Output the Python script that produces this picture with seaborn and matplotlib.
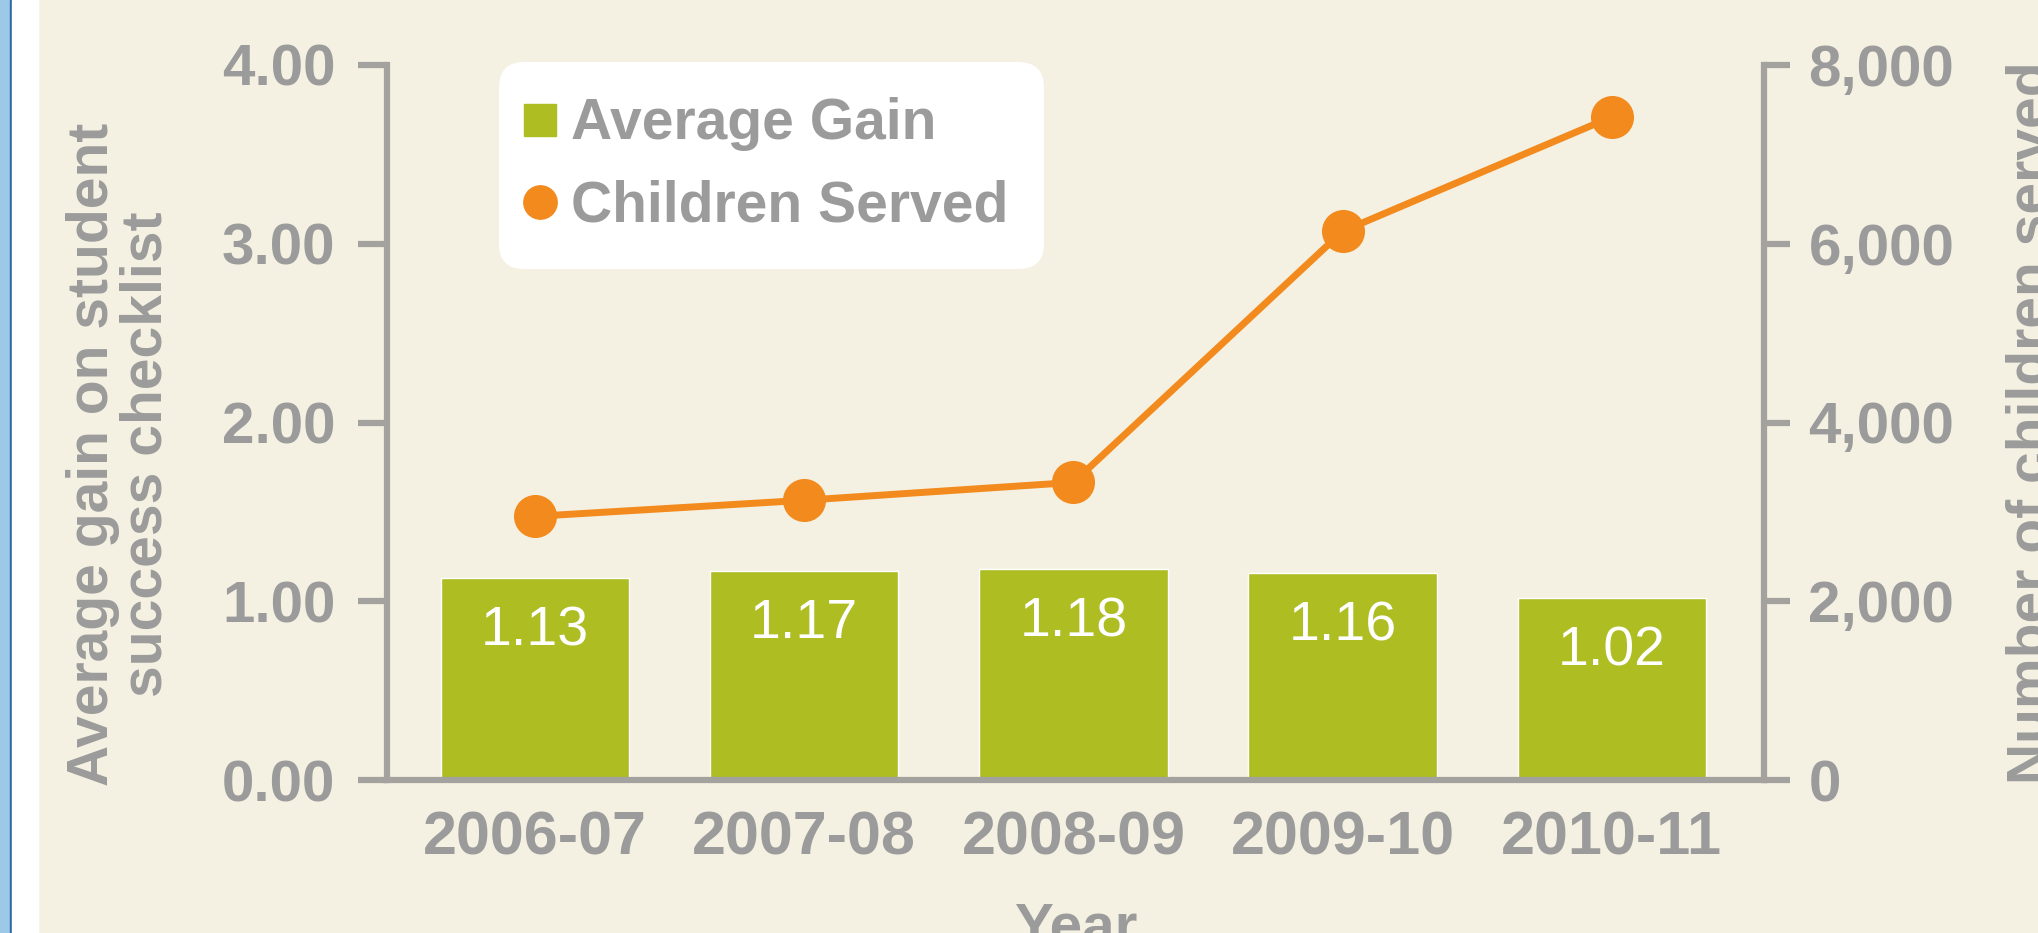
import numpy as np
import pandas as pd
import matplotlib
matplotlib.use('Agg')
import matplotlib.pyplot as plt
from matplotlib.lines import Line2D
from matplotlib.patches import Rectangle
import seaborn as sns

years = ['2006-07', '2007-08', '2008-09', '2009-10', '2010-11']
avg_gain = [1.13, 1.17, 1.18, 1.16, 1.02]
children = [2950, 3130, 3330, 6140, 7420]
left_ticks = [0, 1, 2, 3, 4]
right_ticks = [0, 2000, 4000, 6000, 8000]

green = '#adbd22'
orange = '#f28a1d'
cream = '#f5f1e2'
grey_txt = '#9b9b9b'
grey_line = '#a4a29f'

sns.set_theme(style='white')
plt.rcParams['font.family'] = ['Liberation Sans', 'DejaVu Sans']

df = pd.DataFrame({'year': years, 'gain': avg_gain, 'children': children})
df['pos'] = np.arange(len(df))

fig = plt.figure(figsize=(20.38, 9.33), dpi=100)
fig.patch.set_facecolor(cream)
# left page border (blue strip + white margin)
W = 2038
fig.patches.append(Rectangle((0, 0), 9.5 / W, 1, transform=fig.transFigure, color='#9dc9e9', zorder=0))
fig.patches.append(Rectangle((9.5 / W, 0), 2.5 / W, 1, transform=fig.transFigure, color='#2c6aa0', zorder=0))
fig.patches.append(Rectangle((12 / W, 0), 26 / W, 1, transform=fig.transFigure, color='white', zorder=0))

ax = fig.add_axes([387 / W, 1 - 780 / 933, (1764 - 387) / W, 715 / 933])
ax.set_facecolor(cream)
sns.barplot(data=df, x='pos', y='gain', color=green, width=0.7, saturation=1, ax=ax,
            native_scale=True, zorder=2)

ax2 = ax.twinx()
sns.lineplot(data=df, x='pos', y='children', color=orange, linewidth=5, marker='o',
             markersize=31, markeredgewidth=0, ax=ax2)

ax.set_xlim(-0.55, 4.565)
ax.set_ylim(0, 4)
ax2.set_ylim(0, 8000)

# bar values in white inside the bars
for i, v in enumerate(avg_gain):
    ax.text(i, v - 0.30, f'{v:.2f}', color='white', ha='center', va='center',
            fontsize=40, zorder=3)

ax.set_xticks(df['pos'])
ax.set_xticklabels(years)
ax.set_yticks(left_ticks)
ax.set_yticklabels([f'{t:.2f}' for t in left_ticks])
ax2.set_yticks(right_ticks)
ax2.set_yticklabels([f'{t:,}' for t in right_ticks])

for a in (ax, ax2):
    for s in a.spines.values():
        s.set_visible(False)
        s.set_color(grey_line)
        s.set_linewidth(4.5)
ax.spines['left'].set_visible(True)
ax.spines['bottom'].set_visible(True)
ax2.spines['right'].set_visible(True)

ax.tick_params(axis='y', left=True, length=21, width=4.5, color=grey_line, pad=16,
               labelsize=42, labelcolor=grey_txt)
ax.tick_params(axis='x', bottom=False, length=0, pad=22, labelsize=44, labelcolor=grey_txt)
ax2.tick_params(axis='y', right=True, length=19, width=4.5, color=grey_line, pad=13,
                labelsize=42, labelcolor=grey_txt)
for lab in ax.get_xticklabels() + ax.get_yticklabels() + ax2.get_yticklabels():
    lab.set_fontweight('bold')

ax.set_xlabel('Year', fontsize=42, fontweight='bold', color=grey_txt, va='top')
ax.xaxis.set_label_coords(0.5, -0.17)
ax.set_ylabel('Average gain on student\nsuccess checklist', fontsize=41, fontweight='bold',
              color=grey_txt, va='center', linespacing=1.0)
ax.yaxis.set_label_coords(-0.194, 0.455)
ax2.set_ylabel('Number of children served', fontsize=41, fontweight='bold', color=grey_txt,
               va='center', rotation=90)
ax2.yaxis.set_label_coords(1.195, 0.5)

handles = [Line2D([], [], marker='s', color=green, linestyle='none', markersize=23),
           Line2D([], [], marker='o', color=orange, linestyle='none', markersize=24)]
leg = ax2.legend(handles, ['Average Gain', 'Children Served'], loc='upper left',
                 bbox_to_anchor=(0.081, 1.004), borderaxespad=0, fontsize=41,
                 frameon=True, fancybox=True, framealpha=1, borderpad=0.62,
                 labelspacing=0.5, handlelength=0.2, handletextpad=0.45)
leg.get_frame().set_facecolor('white')
leg.get_frame().set_edgecolor('none')
leg.get_frame().set_boxstyle('round,pad=0,rounding_size=0.45')
for t in leg.get_texts():
    t.set_color(grey_txt)
    t.set_fontweight('bold')

fig.savefig('out.png', dpi=100, facecolor=cream)
